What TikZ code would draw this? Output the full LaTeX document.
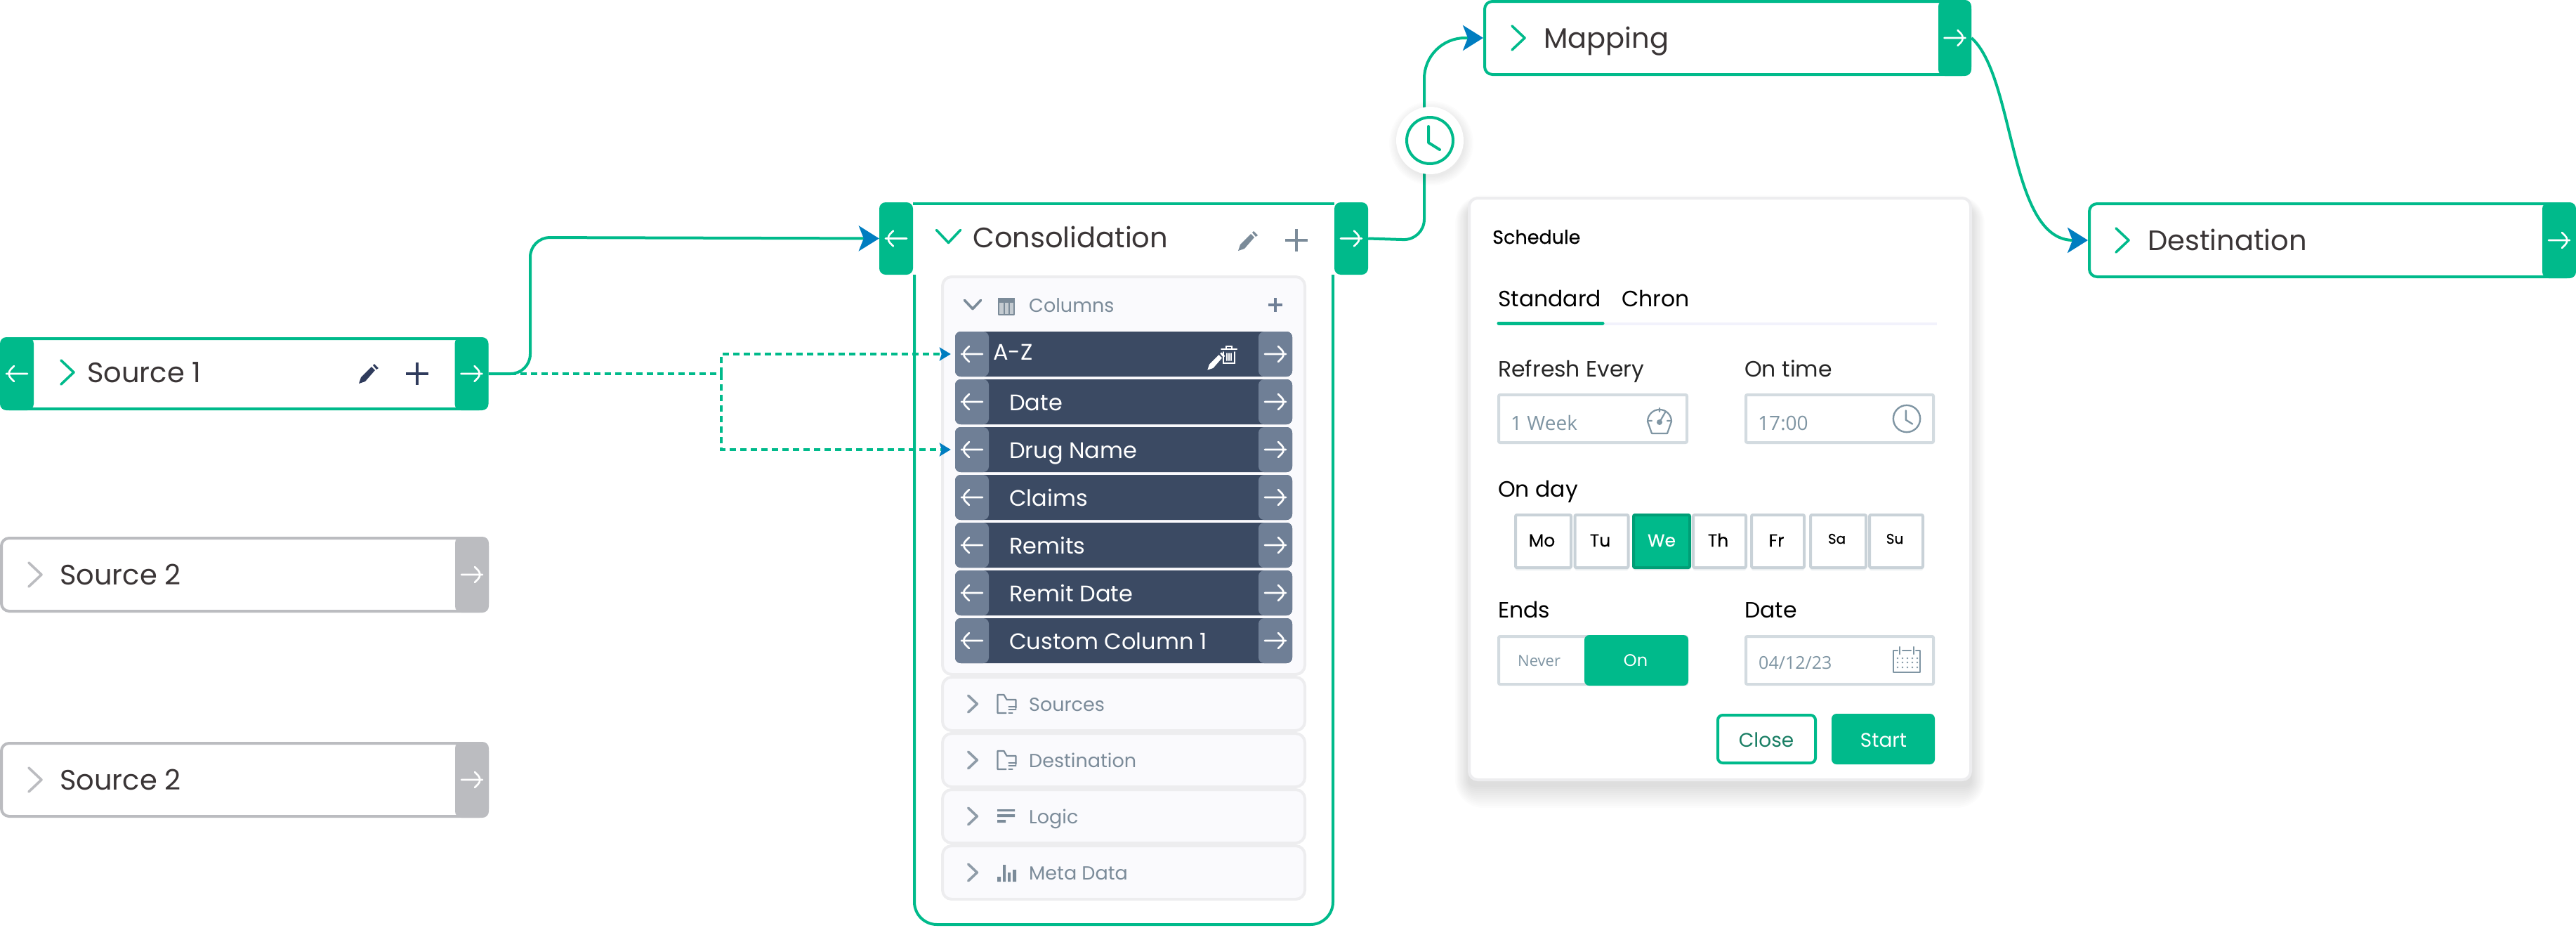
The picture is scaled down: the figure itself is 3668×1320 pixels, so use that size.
\documentclass[tikz,border=0pt]{standalone}
\usepackage{fontspec}
\setmainfont{Poppins}
\newfontfamily\opensans{Open Sans}
\newfontfamily\poppinsmid[FakeBold=0.4]{Poppins}
\usetikzlibrary{arrows.meta,shadows}

\definecolor{flowgreen}{HTML}{00BA8B}
\definecolor{tipblue}{HTML}{007DC0}
\definecolor{idlegray}{HTML}{BBBCC0}
\definecolor{titleink}{HTML}{3A3536}
\definecolor{rowdark}{HTML}{3B4A63}
\definecolor{rowport}{HTML}{6F7F96}
\definecolor{paneledge}{HTML}{EDEDEF}
\definecolor{panelfill}{HTML}{FAFAFD}
\definecolor{mutedink}{HTML}{7B8B99}
\definecolor{fieldedge}{HTML}{D3DBE0}
\definecolor{fieldink}{HTML}{7F95A3}
\definecolor{dayedge}{HTML}{C9D2D8}
\definecolor{inkblue}{HTML}{2F3B5C}

\tikzset{
  stagebox/.style={draw=#1, fill=white, line width=4pt, rounded corners=11pt, inner sep=0pt},
  arrowback/.style={path picture={\draw[white, line width=2.6pt, line cap=round, line join=round, shift={(path picture bounding box.center)}]
      (15,0) -- (-15,0) (-4,-11) -- (-15,0) -- (-4,11);}},
  arrowfwd/.style={path picture={\draw[white, line width=2.6pt, line cap=round, line join=round, shift={(path picture bounding box.center)}]
      (-15,0) -- (15,0) (4,-11) -- (15,0) -- (4,11);}},
  portbox/.style={fill=#1, rounded corners=9pt, inner sep=0pt, minimum width=48pt},
  rowbox/.style={fill=rowdark, rounded corners=8pt, inner sep=0pt, minimum width=480pt, minimum height=64pt},
  rowtab/.style={fill=rowport, rounded corners=8pt, inner sep=0pt, minimum width=48pt, minimum height=64pt},
  panelbox/.style={draw=paneledge, fill=panelfill, line width=4pt, rounded corners=13pt, inner sep=0pt, minimum width=516pt},
  fieldbox/.style={draw=fieldedge, line width=4pt, fill=white, rounded corners=2pt, inner sep=0pt, minimum width=268pt, minimum height=68pt},
  daybox/.style={draw=dayedge, line width=4pt, fill=white, rounded corners=2pt, inner sep=0pt, minimum height=75pt,
    drop shadow={shadow xshift=0pt, shadow yshift=-4pt, opacity=.3, fill=dayedge}},
  solidbtn/.style={fill=flowgreen, rounded corners=7pt, inner sep=0pt},
  txt/.style={anchor=base west, inner sep=0pt, font=\fontsize{#1}{#1}\selectfont},
  title/.style={txt=40, text=titleink},
  rowtxt/.style={txt=32, text=white},
  paneltxt/.style={txt=27, text=mutedink},
  formtxt/.style={txt=31.5, text=black!85},
  fieldtxt/.style={anchor=base west, inner sep=0pt, font=\opensans\fontsize{28}{28}\selectfont, text=fieldink},
  daytxt/.style={anchor=base, inner sep=0pt, font=\poppinsmid\fontsize{#1}{#1}\selectfont},
  btntxt/.style={anchor=base, inner sep=0pt, font=\fontsize{#1}{#1}\selectfont},
  wire/.style={draw=flowgreen, line width=4pt, -{Stealth[length=29pt, width=36pt, inset=7pt, color=tipblue]}},
  dotwire/.style={draw=flowgreen, line width=4pt, dash pattern=on 9pt off 6pt},
  dottip/.style={-{Stealth[length=16pt, width=19pt, inset=3pt, color=tipblue]}, shorten >=6pt},
  chevstroke/.style={draw=#1, line width=3.6pt, line cap=round, line join=round},
  glyphline/.style={draw=#1, line width=2.2pt, line cap=round, line join=round},
  chevron/.pic={\draw[pic actions] (-9,-17) -- (9,0) -- (-9,17);},
  clockface/.pic={\draw[pic actions] (0,0) circle (33) (-2,-20) -- (-2,3) -- (14,13);},
  penglyph/.pic={\fill[#1] (-13,13) -- (-10,4) -- (5,-11) -- (10,-6) -- (-4,10) -- cycle (7,-13) -- (9,-15) -- (15,-9) -- (12,-7) -- cycle;},
  plusglyph/.pic={\draw[pic actions] (-16,0) -- (16,0) (0,-16) -- (0,16);},
  folderglyph/.pic={
    \draw[glyphline=mutedink] (13,6) -- (13,-6) -- (0,-6) -- (-4,-13) -- (-13,-13) -- (-13,13) -- (-1,13);
    \draw[glyphline=mutedink] (3,4) -- (13,4) (3,8) -- (13,8) (3,13) -- (8,13);},
}

\begin{document}
\begin{tikzpicture}[x=1pt, y=-1pt, >=stealth]
  \useasboundingbox (0,0) rectangle (3668,1320);

  % sources
  \node[stagebox=flowgreen, minimum width=691pt, minimum height=100pt] (srcone) at (347.5,532) {};
  \node[portbox=flowgreen, arrowback, minimum height=104pt] (srconein) at (24,532) {};
  \node[portbox=flowgreen, arrowfwd, minimum height=104pt] (srconeout) at (671.5,532) {};
  \pic[chevstroke=flowgreen] at (96,530) {chevron};
  \node[title] (srconetxt) at (124,544) {Source 1};
  \pic at (524,533) {penglyph=inkblue};
  \pic[draw=inkblue, line width=3.6pt] at (594,532) {plusglyph};

  \foreach \i/\cy in {2/818, 3/1110}{
    \node[stagebox=idlegray, minimum width=692pt, minimum height=104pt] (src\i) at (348,\cy) {};
    \node[portbox=idlegray, arrowfwd, minimum height=108pt] (src\i out) at (672,\cy) {};
    \pic[chevstroke=idlegray] at (50,{\cy}) {chevron};
    \node[title] (src\i txt) at (85,\cy+14) {Source 2};
  }

  % consolidation frame
  \draw[flowgreen, line width=4pt] (1300,290) -- (1900,290);
  \draw[flowgreen, line width=4pt, rounded corners=32pt] (1302,391) -- (1302,1316) -- (1898,1316) -- (1898,391);
  \node[portbox=flowgreen, arrowback, minimum height=103pt] (consolin) at (1276,339.5) {};
  \node[portbox=flowgreen, arrowfwd, minimum height=103pt] (consolout) at (1924,339.5) {};
  \pic[chevstroke=flowgreen, rotate=-90] at (1350.5,336.5) {chevron};
  \node[title] (consoltxt) at (1385,352) {Consolidation};
  \pic at (1776,344) {penglyph=mutedink};
  \pic[draw=mutedink, line width=3.6pt] at (1846,342) {plusglyph};

  % panels
  \node[panelbox, minimum height=566pt] (colpanel) at (1600,677) {};
  \pic[chevstroke=mutedink, rotate=-90, scale=.68] at (1385,433.5) {chevron};
  \draw[glyphline=mutedink, fill=mutedink!45] (1422,425) rectangle (1444,448);
  \draw[glyphline=mutedink] (1430,430) -- (1430,447) (1437,430) -- (1437,447);
  \fill[mutedink] (1421,424) rectangle (1445,431);
  \node[paneltxt] (coltxt) at (1465,444) {Columns};
  \pic[draw=rowport, line width=4pt, scale=.6] at (1816,434) {plusglyph};

  \foreach \i/\cy in {1/504, 2/572, 3/640, 4/708, 5/776, 6/844, 7/912}{
    \node[rowbox] (row\i) at (1600,\cy) {};
    \node[rowtab, arrowback] (rowin\i) at (1384,\cy) {};
    \node[rowtab, arrowfwd] (rowout\i) at (1816,\cy) {};
  }
  \node[rowtxt] (rowtxt1) at (1414,512) {A-Z};
  \foreach \i/\by/\lab in {2/584/Date, 3/652/Drug Name, 4/720/Claims, 5/788/Remits, 6/856/Remit Date, 7/924/Custom Column 1}{
    \node[rowtxt] (rowtxt\i) at (1437,\by) {\lab};
  }
  \pic[scale=.9] at (1731,515) {penglyph=white};
  \draw[white, line width=2pt, line cap=round] (1739,497) -- (1761,497) (1746,497) -- (1746,493) -- (1754,493) -- (1754,497)
    (1742,501) -- (1742,517) -- (1758,517) -- (1758,501) (1747,503) -- (1747,513) (1750,503) -- (1750,513) (1753,503) -- (1753,513);

  \foreach \nm/\cy/\by/\lab in {sources/1002/1012/Sources, dest/1082/1092/Destination, logic/1162/1172/Logic, meta/1242/1252/Meta Data}{
    \node[panelbox, minimum height=76pt] (\nm panel) at (1600,\cy) {};
    \pic[chevstroke=mutedink!85, scale=.7] at (1385,\cy) {chevron};
    \node[paneltxt] (\nm txt) at (1465,\by) {\lab};
  }
  \pic at (1433.5,1002) {folderglyph};
  \pic at (1433.5,1082) {folderglyph};
  \fill[mutedink] (1420,1152) rectangle (1445,1155) (1420,1159) rectangle (1445,1163) (1420,1167) rectangle (1432,1171);
  \fill[mutedink] (1420,1248) rectangle (1425,1255) (1428,1231) rectangle (1432,1255) (1435,1242) rectangle (1439,1255) (1442,1238) rectangle (1447,1255);

  % mapping and destination
  \node[stagebox=flowgreen, minimum width=691pt, minimum height=104pt] (mapbox) at (2459.5,54) {};
  \node[portbox=flowgreen, arrowfwd, minimum width=47pt, minimum height=108pt] (mapout) at (2783.5,54) {};
  \pic[chevstroke=flowgreen] at (2162,54) {chevron};
  \node[title] (maptxt) at (2198,68) {Mapping};

  \node[stagebox=flowgreen, minimum width=691pt, minimum height=104pt] (destbox) at (3320.5,342) {};
  \node[portbox=flowgreen, arrowfwd, minimum height=108pt] (destout) at (3644,342) {};
  \pic[chevstroke=flowgreen] at (3022,342) {chevron};
  \node[title] (desttxt) at (3058,356) {Destination};

  % connectors
  \draw[wire, rounded corners=28pt] (srconeout.east) -- (755,532) -- (755,338) -- (consolin.west);
  \draw[wire, rounded corners=30pt] (consolout.east) -- (2028,342) [rounded corners=58pt] -- (2028,54) -- (mapbox.west);
  \draw[wire] (mapout.east) .. controls (2870,110) and (2860,342) .. (destbox.west);

  \coordinate (dotbend) at (1027,532);
  \draw[dotwire] (srconeout.east) -- (dotbend);
  \draw[dotwire, dottip] (dotbend) |- (rowin1.west);
  \draw[dotwire, dottip] (dotbend) |- (rowin3.west);

  % clock on the line
  \foreach \s in {0,2,...,12}{
    \fill[black, opacity=.012] (2038,204) circle ({48+\s});
  }
  \node[circle, fill=white, minimum size=96pt, inner sep=0pt] (clockdisc) at (2036,200) {};
  \pic[draw=flowgreen, line width=4pt, line cap=round, line join=round] at (clockdisc) {clockface};

  % schedule card
  \foreach \s in {0,3,...,30}{
    \fill[black, opacity=.011, rounded corners={10+\s}] ({2090-.6*\s},{296-.6*\s}) rectangle ({2808+.6*\s},{1120+\s});
  }
  \node[draw=paneledge, fill=white, line width=4pt, rounded corners=12pt, minimum width=714pt, minimum height=828pt, inner sep=0pt] (card) at (2449,696) {};
  \node[txt=27, font=\poppinsmid\fontsize{27}{27}\selectfont, text=black] (cardtitle) at (2125,347) {Schedule};
  \node[txt=31.5, text=black] (tabstd) at (2133,436) {Standard};
  \node[txt=31.5, text=black] (tabchron) at (2309,436) {Chron};
  \draw[line width=4pt, color=paneledge!80!blue!20] (2132,461) -- (2758,461);
  \draw[line width=5pt, color=flowgreen, line cap=round] (2134,460) -- (2282,460);

  \node[formtxt] (refreshtxt) at (2133,536) {Refresh Every};
  \node[formtxt] (ontimetxt) at (2484,536) {On time};
  \node[fieldbox] (refreshfield) at (2268,596) {};
  \node[fieldbox, minimum width=267pt] (ontimefield) at (2619.5,596) {};
  \node[fieldtxt] (weektxt) at (2151,612) {1 Week};
  \node[fieldtxt] (timetxt) at (2503,612) {17:00};
  % gauge
  \draw[glyphline=fieldink] (2352,617) -- (2374,617) -- (2380,600) arc (0:-180:17) -- cycle;
  \draw[glyphline=fieldink] (2363,581) -- (2363,586) (2347,599) -- (2352,599) (2379,599) -- (2374,599) (2363,601) -- (2371,587);
  \fill[fieldink] (2363,601) circle (4);
  \pic[draw=fieldink, line width=2.4pt, line cap=round, line join=round, scale=.58] at (2715,596) {clockface};

  \node[txt=31.5, text=black] (ondaytxt) at (2133,707) {On day};
  \foreach \nm/\cx/\bw in {Mo/2197.5/79, Tu/2280.5/76, Th/2448.5/75, Fr/2531.5/75}{
    \node[daybox, minimum width=\bw pt] (day\nm) at (\cx,770.5) {};
    \node[daytxt=25] (day\nm txt) at (\cx-2,778) {\nm};
  }
  \foreach \nm/\cx/\bw in {Sa/2617.5/79, Su/2700/76}{
    \node[daybox, minimum width=\bw pt] (day\nm) at (\cx,770.5) {};
    \node[daytxt=20] (day\nm txt) at (\cx-2,774) {\nm};
  }
  \node[daybox, fill=flowgreen, draw=flowgreen!85!black, minimum width=80pt] (dayWe) at (2366,770.5) {};
  \node[daytxt=25, text=white] (dayWetxt) at (2366,778) {We};

  \node[txt=31.5, text=black] (endstxt) at (2133,879) {Ends};
  \node[txt=31.5, text=black] (datetxt) at (2484,879) {Date};
  \node[fieldbox] (endsfield) at (2268,940) {};
  \node[solidbtn, minimum width=148pt, minimum height=72pt] (endson) at (2330,940) {};
  \node[anchor=base west, inner sep=0pt, font=\opensans\fontsize{22}{22}\selectfont, text=fieldink] (nevertxt) at (2161,948) {Never};
  \node[btntxt=24, text=white] (ontxt) at (2329,948) {On};
  \node[fieldbox, minimum width=267pt] (datefield) at (2619.5,940) {};
  \node[fieldtxt, font=\opensans\fontsize{25}{25}\selectfont] (datevaltxt) at (2504,952) {04/12/23};
  % calendar
  \draw[glyphline=fieldink] (2702,926) -- (2696,926) -- (2696,957) -- (2734,957) -- (2734,926) -- (2728,926) (2709,926) -- (2721,926) (2705,921) -- (2705,931) (2725,921) -- (2725,931);
  \foreach \dotx in {2702,2709,2716,2723,2730}{
    \foreach \doty in {937,943,950}{
      \fill[fieldink] (\dotx,\doty) circle (1.3);
    }
  }

  \node[draw=flowgreen, line width=4pt, fill=white, rounded corners=7pt, minimum width=139pt, minimum height=68pt, inner sep=0pt] (closebtn) at (2515.5,1052) {};
  \node[btntxt=28, text=flowgreen!60!black!90] (closetxt) at (2515,1063) {Close};
  \node[solidbtn, minimum width=147pt, minimum height=72pt] (startbtn) at (2681.5,1052) {};
  \node[btntxt=28, text=white] (starttxt) at (2682,1063) {Start};
\end{tikzpicture}
\end{document}
